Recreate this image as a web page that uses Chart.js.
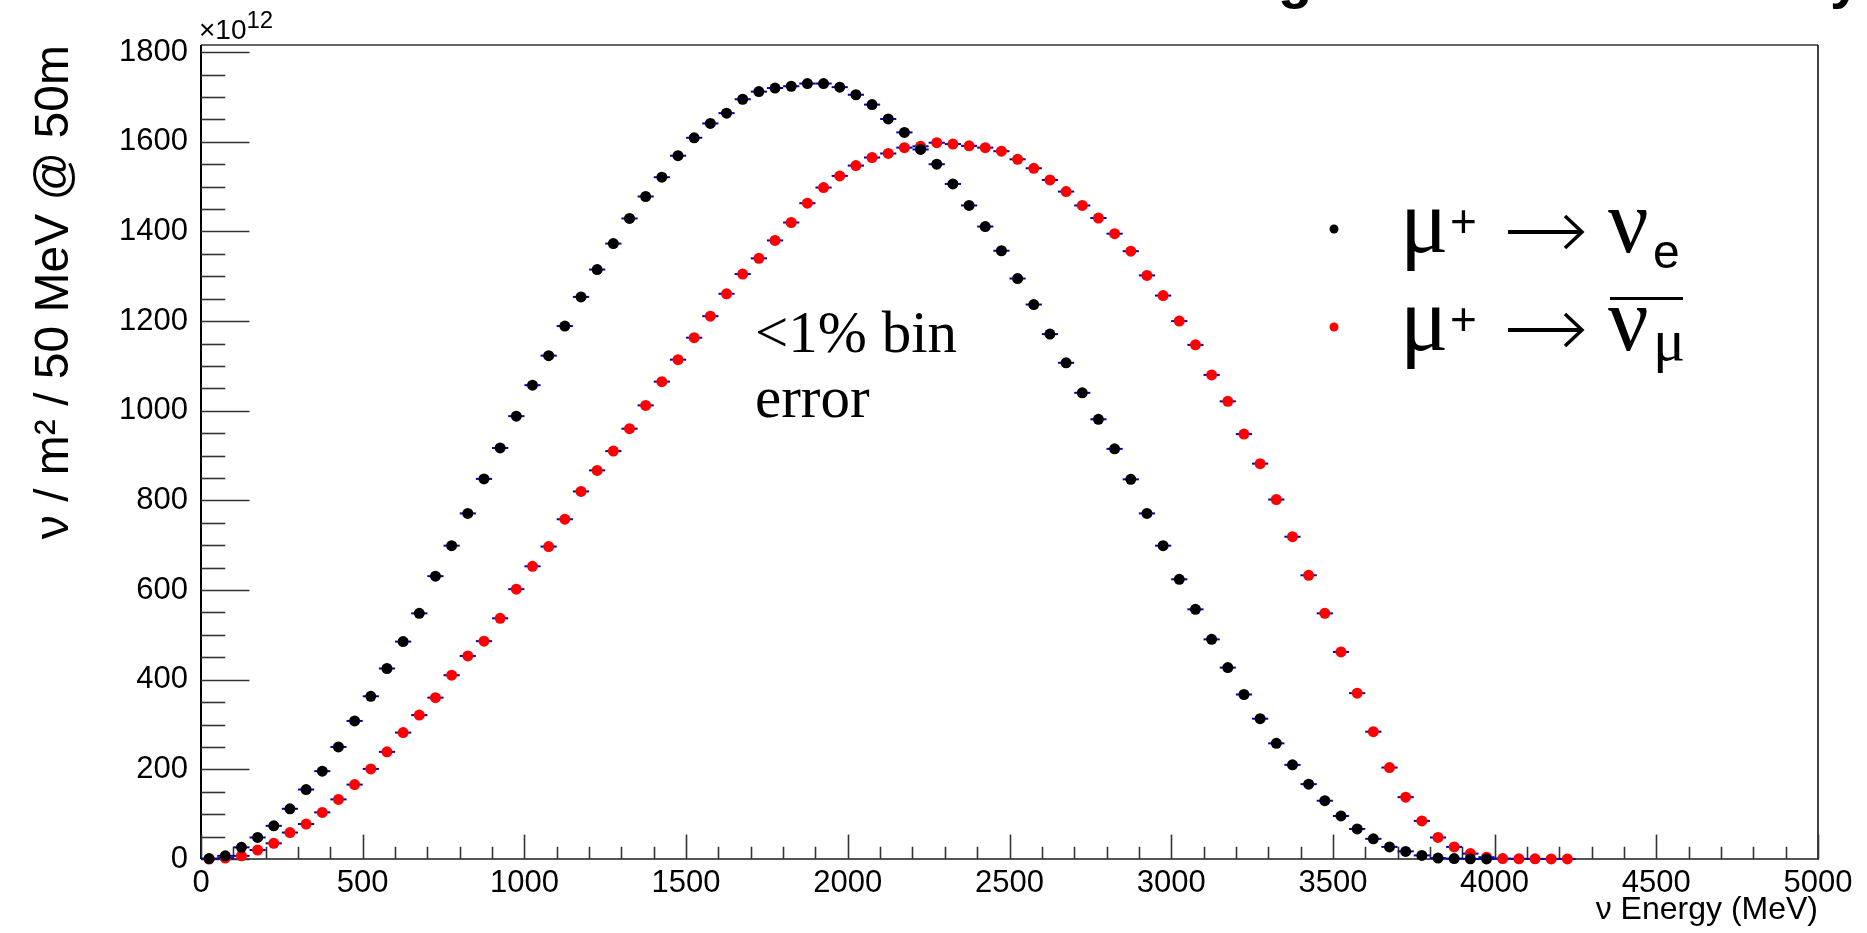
<!DOCTYPE html>
<html>
<head>
<meta charset="utf-8">
<script src="https://cdn.jsdelivr.net/npm/chart.js@4.4.0/dist/chart.umd.min.js"></script>
<style>
html, body { margin: 0; padding: 0; background: #fff; }
#grafica { display: block; }
</style>
</head>
<body>
<canvas id="grafica" width="1867" height="933"></canvas>
<script>
// centros de bin (MeV), bins de 50 MeV
const energiaMeV = [25, 75, 125, 175, 225, 275, 325, 375, 425, 475, 525, 575, 625, 675, 725, 775, 825, 875, 925, 975,
    1025, 1075, 1125, 1175, 1225, 1275, 1325, 1375, 1425, 1475, 1525, 1575, 1625, 1675, 1725, 1775, 1825, 1875, 1925, 1975,
    2025, 2075, 2125, 2175, 2225, 2275, 2325, 2375, 2425, 2475, 2525, 2575, 2625, 2675, 2725, 2775, 2825, 2875, 2925, 2975,
    3025, 3075, 3125, 3175, 3225, 3275, 3325, 3375, 3425, 3475, 3525, 3575, 3625, 3675, 3725, 3775, 3825, 3875, 3925, 3975,
    4025, 4075, 4125, 4175, 4225];
// mu+ -> nu_e (negro), unidades de 1e12
const flujoNuE = [1, 7, 26, 48, 74, 112, 155, 196, 250, 308, 363, 425, 485, 548, 631, 699, 771, 848, 917, 988,
    1057, 1123, 1189, 1254, 1315, 1373, 1429, 1478, 1521, 1569, 1609, 1641, 1664, 1695, 1712, 1720, 1724, 1730, 1730, 1722,
    1705, 1683, 1651, 1621, 1583, 1550, 1506, 1458, 1411, 1357, 1295, 1237, 1171, 1107, 1040, 981, 915, 847, 771, 699,
    624, 557, 490, 427, 367, 313, 258, 210, 167, 130, 96, 67, 45, 27, 17, 8, 2, 1, 0.3, 0.1];
// mu+ -> anti nu_mu (rojo)
const flujoNuMuBar = [0, 2, 7, 20, 35, 59, 78, 104, 133, 166, 201, 239, 282, 321, 360, 410, 453, 486, 537, 602,
    653, 697, 758, 820, 867, 910, 960, 1012, 1065, 1114, 1163, 1211, 1261, 1305, 1340, 1380, 1420, 1463, 1498, 1524,
    1547, 1565, 1574, 1587, 1590, 1598, 1595, 1591, 1587, 1579, 1561, 1541, 1515, 1489, 1458, 1430, 1395, 1356, 1302, 1257,
    1200, 1147, 1080, 1021, 948, 882, 802, 719, 633, 548, 462, 370, 284, 204, 138, 85, 48, 27, 12, 4,
    1, 0.5, 0.3, 0.2, 0.1];
const ticksX = [0, 500, 1000, 1500, 2000, 2500, 3000, 3500, 4000, 4500, 5000];
const ticksY = [0, 200, 400, 600, 800, 1000, 1200, 1400, 1600, 1800];
const anchoBin = 50;
const menorX = 100;
const menorY = 50;
const yMax = 1816;

const sans = '"Liberation Sans", Arial, sans-serif';
const serif = '"Liberation Serif", "Times New Roman", serif';

const puntos = (valores) => valores.map((v, i) => ({ x: energiaMeV[i], y: v }));

const marcoYErrores = {
    id: 'marcoYErrores',
    beforeDatasetsDraw(chart) {
        const { ctx, chartArea: a, scales: { x, y } } = chart;
        ctx.save();
        // marco
        ctx.lineWidth = 2;
        ctx.strokeStyle = '#666';
        ctx.beginPath(); ctx.moveTo(a.left, a.top); ctx.lineTo(a.right, a.top); ctx.stroke();
        ctx.strokeStyle = '#555';
        ctx.beginPath(); ctx.moveTo(a.left, a.bottom); ctx.lineTo(a.right + 1, a.bottom); ctx.stroke();
        ctx.strokeStyle = '#000';
        ctx.beginPath(); ctx.moveTo(a.left, a.top); ctx.lineTo(a.left, a.bottom); ctx.stroke();
        ctx.lineWidth = 1.5;
        ctx.beginPath(); ctx.moveTo(a.right, a.top); ctx.lineTo(a.right, a.bottom); ctx.stroke();

        // ticks hacia dentro
        ctx.strokeStyle = '#333';
        ctx.lineWidth = 1.6;
        const largoY = (a.right - a.left) * 0.03;
        for (let v = 0; v <= ticksY[ticksY.length - 1]; v += menorY) {
            const py = Math.round(y.getPixelForValue(v)) + 0.5;
            const largo = ticksY.includes(v) ? largoY : largoY / 2;
            ctx.beginPath(); ctx.moveTo(a.left, py); ctx.lineTo(a.left + largo, py); ctx.stroke();
        }
        const largoX = (a.bottom - a.top) * 0.03;
        for (let v = 0; v <= ticksX[ticksX.length - 1]; v += menorX) {
            const px = Math.round(x.getPixelForValue(v)) + 0.5;
            const largo = ticksX.includes(v) ? largoX : largoX / 2;
            ctx.beginPath(); ctx.moveTo(px, a.bottom); ctx.lineTo(px, a.bottom - largo); ctx.stroke();
        }

        // barras de error horizontales (ancho del bin)
        ctx.strokeStyle = '#0000b4';
        ctx.lineWidth = 2;
        chart.data.datasets.forEach(ds => {
            ds.data.forEach(p => {
                const py = y.getPixelForValue(p.y);
                ctx.beginPath();
                ctx.moveTo(x.getPixelForValue(p.x - anchoBin / 2), py);
                ctx.lineTo(x.getPixelForValue(p.x + anchoBin / 2), py);
                ctx.stroke();
            });
        });
        ctx.restore();
    },
    afterDraw(chart) {
        const { ctx, chartArea: a } = chart;
        ctx.save();
        ctx.fillStyle = '#000';
        ctx.textBaseline = 'alphabetic';
        ctx.textAlign = 'left';

        // exponente del eje y
        ctx.font = `28px ${sans}`;
        ctx.fillText('×10', a.left - 2, 39);
        const w10 = ctx.measureText('×10').width;
        ctx.font = `24px ${sans}`;
        ctx.fillText('12', a.left - 2 + w10, 28);

        // restos del titulo cortado arriba
        ctx.font = `bold 56px ${sans}`;
        ctx.fillText('g', 1278, -3);
        ctx.fillText('y', 1830, -3);

        // anotacion
        ctx.font = `59px ${serif}`;
        ctx.fillText('<1% bin', 755, 352);
        ctx.fillText('error', 755, 417);

        // leyenda
        const flecha = (x0, x1, yc) => {
            ctx.save();
            ctx.strokeStyle = '#000';
            ctx.lineWidth = 4;
            ctx.lineCap = 'butt';
            ctx.beginPath(); ctx.moveTo(x0, yc); ctx.lineTo(x1 - 2, yc); ctx.stroke();
            ctx.lineWidth = 3.5;
            ctx.beginPath();
            ctx.moveTo(x1 - 17, yc - 16); ctx.lineTo(x1, yc); ctx.lineTo(x1 - 17, yc + 16);
            ctx.stroke();
            ctx.restore();
        };
        const entrada = (base, color, barra) => {
            ctx.fillStyle = color;
            ctx.beginPath(); ctx.arc(1334, base - 23, 4.5, 0, 2 * Math.PI); ctx.fill();
            ctx.fillStyle = '#000';
            ctx.font = `90px ${serif}`;
            ctx.fillText('μ', 1400, base);
            ctx.font = `46px ${sans}`;
            ctx.fillText('+', 1450, base - 15);
            flecha(1508, 1582, base - 20);
            ctx.font = `90px ${serif}`;
            ctx.fillText('ν', 1608, base);
            if (barra) {
                ctx.fillRect(1610, base - 53, 73, 3);
                ctx.font = `60px ${serif}`;
                ctx.fillText('μ', 1653, base + 10);
            } else {
                ctx.font = `48px ${sans}`;
                ctx.fillText('e', 1653, base + 16);
            }
        };
        entrada(252, '#000', false);
        entrada(350, '#ff0000', true);
        ctx.restore();
    }
};

const ctx = document.getElementById('grafica').getContext('2d');
new Chart(ctx, {
    type: 'scatter',
    data: {
        datasets: [{
            label: 'μ⁺ → νe',
            data: puntos(flujoNuE),
            backgroundColor: '#000',
            borderWidth: 0,
            pointRadius: 5.5,
            clip: false,
            order: 0
        }, {
            label: 'μ⁺ → ν̄μ',
            data: puntos(flujoNuMuBar),
            backgroundColor: '#ff0000',
            borderWidth: 0,
            pointRadius: 5.5,
            clip: false,
            order: 1
        }]
    },
    options: {
        responsive: false,
        animation: false,
        devicePixelRatio: 1,
        layout: { padding: { left: 0, right: 49, top: 45, bottom: 0 }, autoPadding: false },
        plugins: { legend: { display: false }, tooltip: { enabled: false } },
        scales: {
            x: {
                type: 'linear',
                min: 0,
                max: 5000,
                afterBuildTicks: s => { s.ticks = ticksX.map(v => ({ value: v })); },
                afterFit: s => { s.height = 74; s.paddingLeft = 0; s.paddingRight = 0; },
                grid: { display: false, drawTicks: false },
                border: { display: false },
                ticks: { padding: 6, color: '#000', font: { family: sans, size: 31 }, maxRotation: 0, autoSkip: false, callback: v => String(v) },
                title: { display: true, text: 'ν Energy (MeV)', align: 'end', color: '#000', font: { family: sans, size: 32 }, padding: { top: 0, bottom: 4 } }
            },
            y: {
                type: 'linear',
                min: 0,
                max: yMax,
                afterBuildTicks: s => { s.ticks = ticksY.map(v => ({ value: v })); },
                afterFit: s => { s.width = 201; s.paddingTop = 0; s.paddingBottom = 0; },
                grid: { display: false, drawTicks: false },
                border: { display: false },
                ticks: { padding: 13, color: '#000', font: { family: sans, size: 31 }, autoSkip: false, callback: v => String(v) },
                title: { display: true, text: 'ν / m² / 50 MeV @ 50m', align: 'end', color: '#000', font: { family: sans, size: 48 }, padding: { top: 26, bottom: 0 } }
            }
        }
    },
    plugins: [marcoYErrores]
});
</script>
</body>
</html>
